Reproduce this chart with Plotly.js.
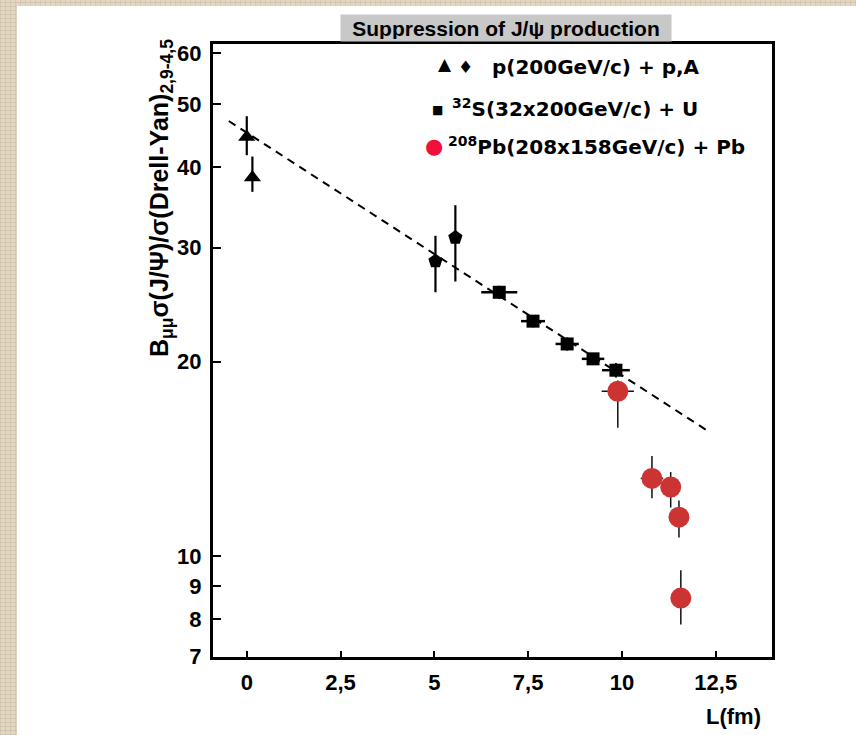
<!DOCTYPE html>
<html>
<head>
<meta charset="utf-8">
<script src="https://cdn.plot.ly/plotly-3.0.1.min.js"></script>
<style>
  html, body { margin: 0; padding: 0; width: 856px; height: 735px; overflow: hidden; }
  body {
    background-color: #e2d6c0;
    background-image:
      repeating-linear-gradient(0deg, rgba(150,130,100,0.18) 0px, rgba(150,130,100,0.18) 1px, transparent 1px, transparent 4px),
      repeating-linear-gradient(90deg, rgba(150,130,100,0.14) 0px, rgba(150,130,100,0.14) 1px, transparent 1px, transparent 5px);
  }
  #chart { position: absolute; left: 17px; top: 6px; width: 839px; height: 729px; background: #ffffff; }
</style>
</head>
<body>
<div id="chart"></div>
<script>
// ---- data ----
var xTickVals = [0, 2.5, 5, 7.5, 10, 12.5];
var xTickText = ['0', '2,5', '5', '7,5', '10', '12,5'];
var yTickVals = [7, 8, 9, 10, 20, 30, 40, 50, 60];
var yTickText = ['7', '8', '9', '10', '20', '30', '40', '50', '60'];

// p(200GeV/c) + p  (triangles)
var ppX = [0, 0.15];
var ppY = [44.5, 38.5];
var ppErrPlus = [3.4, 3.0];
var ppErrMinus = [2.8, 1.9];

// p(200GeV/c) + A  (pentagons)
var pAX = [5.03, 5.56];
var pAY = [28.6, 31.1];
var pAErrPlus = [2.7, 3.8];
var pAErrMinus = [3.0, 4.5];

// 32S + U (squares)
var sX = [6.73, 7.63, 8.54, 9.23, 9.84];
var sY = [25.6, 23.1, 21.3, 20.2, 19.4];
var sXErr = [0.48, 0.32, 0.31, 0.30, 0.37];
var sYErr = [0.6, 0.5, 0.5, 0.4, 0.5];

// 208Pb + Pb (red circles)
var pbX = [9.89, 10.8, 11.3, 11.52, 11.57];
var pbY = [18.0, 13.2, 12.8, 11.5, 8.62];
var pbErrPlus = [0.7, 1.1, 0.7, 0.7, 0.9];
var pbErrMinus = [2.2, 0.9, 0.9, 0.8, 0.77];
var pbXErr = [0.43, 0.3, 0, 0, 0];

// dashed trend line (end points)
var lineX = [-0.48, 12.31];
var lineY = [47.1, 15.6];

// ---- layout helpers (page pixel -> paper coords) ----
var PL = 213, PT = 44, PW = 559, PH = 613;
function px(x) { return (x - PL) / PW; }
function py(y) { return (PT + PH - y) / PH; }

var arial = 'Liberation Sans, Arial, sans-serif';
var dejavu = 'DejaVu Sans, sans-serif';

var traces = [
  {
    x: lineX, y: lineY, mode: 'lines', type: 'scatter',
    line: { color: '#000', width: 2, dash: '8px,6px' }
  },
  {
    x: ppX, y: ppY, mode: 'markers', type: 'scatter',
    marker: { symbol: 'triangle-up', size: 15, color: '#000' },
    error_y: { type: 'data', symmetric: false, array: ppErrPlus, arrayminus: ppErrMinus, color: '#000', thickness: 2.2, width: 0 }
  },
  {
    x: pAX, y: pAY, mode: 'markers', type: 'scatter',
    marker: { symbol: 'pentagon', size: 15, color: '#000' },
    error_y: { type: 'data', symmetric: false, array: pAErrPlus, arrayminus: pAErrMinus, color: '#000', thickness: 2.2, width: 0 }
  },
  {
    x: sX, y: sY, mode: 'markers', type: 'scatter',
    marker: { symbol: 'square', size: 13, color: '#000' },
    error_x: { type: 'data', array: sXErr, color: '#000', thickness: 2.5, width: 0 },
    error_y: { type: 'data', array: sYErr, color: '#000', thickness: 2, width: 0 }
  },
  {
    x: pbX, y: pbY, mode: 'markers', type: 'scatter',
    marker: { symbol: 'circle', size: 21, color: '#cc3434' },
    error_x: { type: 'data', array: pbXErr, color: '#111', thickness: 1.5, width: 0 },
    error_y: { type: 'data', symmetric: false, array: pbErrPlus, arrayminus: pbErrMinus, color: '#111', thickness: 1.5, width: 0 }
  }
];

var annotations = [
  { // title
    text: 'Suppression of J/ψ production', xref: 'paper', yref: 'paper',
    x: px(506), y: py(28), xanchor: 'center', yanchor: 'middle', showarrow: false,
    bgcolor: '#c8c8c8', width: 326, height: 22, borderpad: 2,
    font: { family: arial, size: 21, color: '#000', weight: 'bold' }
  },
  { // y axis title
    text: 'B<sub>μμ</sub>σ(J/Ψ)/σ(Drell-Yan)<sub>2,9-4,5</sub>', xref: 'paper', yref: 'paper',
    x: px(161), y: py(198), xanchor: 'center', yanchor: 'middle', showarrow: false, textangle: -90,
    font: { family: arial, size: 25, color: '#000', weight: 'bold' }
  },
  { // x axis title
    text: 'L(fm)', xref: 'paper', yref: 'paper',
    x: px(733), y: py(716), xanchor: 'center', yanchor: 'middle', showarrow: false,
    font: { family: arial, size: 22, color: '#000', weight: 'bold' }
  },
  // legend line 1
  { text: '▲', xref: 'paper', yref: 'paper', x: px(445), y: py(64), xanchor: 'center', yanchor: 'middle', showarrow: false,
    font: { family: dejavu, size: 17, color: '#000' } },
  { text: '♦', xref: 'paper', yref: 'paper', x: px(465), y: py(67), xanchor: 'center', yanchor: 'middle', showarrow: false,
    font: { family: dejavu, size: 17, color: '#000' } },
  { text: 'p(200GeV/c) + p,A', xref: 'paper', yref: 'paper', x: px(490), y: py(67), xanchor: 'left', yanchor: 'middle', showarrow: false,
    font: { family: dejavu, size: 20, color: '#000', weight: 'bold' } },
  // legend line 2
  { text: '■', xref: 'paper', yref: 'paper', x: px(437), y: py(110), xanchor: 'center', yanchor: 'middle', showarrow: false,
    font: { family: dejavu, size: 12, color: '#000' } },
  { text: '<sup>32</sup>S(32x200GeV/c) + U', xref: 'paper', yref: 'paper', x: px(450), y: py(108), xanchor: 'left', yanchor: 'middle', showarrow: false,
    font: { family: dejavu, size: 20, color: '#000', weight: 'bold' } },
  // legend line 3
  { text: '●', xref: 'paper', yref: 'paper', x: px(434), y: py(146), xanchor: 'center', yanchor: 'middle', showarrow: false,
    font: { family: dejavu, size: 21, color: '#f0103a' } },
  { text: '<sup>208</sup>Pb(208x158GeV/c) + Pb', xref: 'paper', yref: 'paper', x: px(446), y: py(146), xanchor: 'left', yanchor: 'middle', showarrow: false,
    font: { family: dejavu, size: 20, color: '#000', weight: 'bold' } }
];

var layout = {
  width: 839, height: 729,
  margin: { l: PL - 17, t: PT - 6, r: 839 - (PL - 17) - PW, b: 729 - (PT - 6) - PH, pad: 0 },
  paper_bgcolor: '#ffffff', plot_bgcolor: '#ffffff',
  showlegend: false, hovermode: false,
  xaxis: {
    range: [-0.9, 14], tickmode: 'array', tickvals: xTickVals, ticktext: xTickText,
    showgrid: false, zeroline: false, showline: true, linecolor: '#000', linewidth: 3, mirror: true,
    ticks: 'inside', ticklen: 6, tickwidth: 2, tickcolor: '#000', ticklabelstandoff: 4,
    tickfont: { family: arial, size: 22, color: '#000', weight: 'bold' }
  },
  yaxis: {
    type: 'log', range: [0.8445, 1.792], tickmode: 'array', tickvals: yTickVals, ticktext: yTickText,
    showgrid: false, zeroline: false, showline: true, linecolor: '#000', linewidth: 3, mirror: true,
    ticks: 'inside', ticklen: 8, tickwidth: 2, tickcolor: '#000', ticklabelstandoff: 4,
    tickfont: { family: arial, size: 22, color: '#000', weight: 'bold' }
  },
  annotations: annotations
};

Plotly.newPlot('chart', traces, layout, { displayModeBar: false, staticPlot: true });
</script>
</body>
</html>
